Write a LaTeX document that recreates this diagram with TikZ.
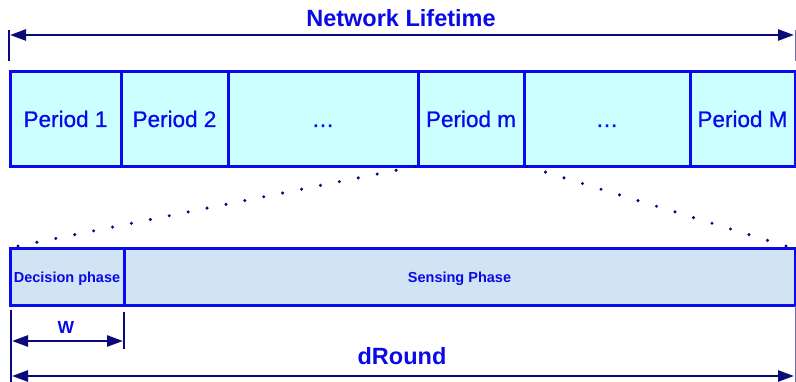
\documentclass[tikz,border=0pt]{standalone}
\usepackage{fontspec}
\setmainfont{Liberation Sans}
\newfontface\medfont[FakeBold=0.8]{Liberation Sans}
\usetikzlibrary{arrows.meta,calc}
\definecolor{boxblue}{HTML}{0A0AEE}
\definecolor{txtblue}{HTML}{0A0AE6}
\definecolor{navy}{HTML}{0A0A78}
\definecolor{cyanfill}{HTML}{CCFFFF}
\definecolor{phasefill}{HTML}{D0E4F4}
\tikzset{
  pbox/.style={draw=boxblue, line width=3pt, fill=cyanfill, inner sep=0pt, outer sep=0pt,
    minimum height=95pt, text=txtblue, text height=16pt, text depth=0pt,
    font=\medfont\fontsize{22.5}{26}\selectfont},
  phbox/.style={draw=boxblue, line width=3pt, fill=phasefill, inner sep=0pt, outer sep=0pt,
    minimum height=57pt, text=txtblue, text height=11pt, text depth=0pt,
    font=\bfseries\fontsize{14.5}{18}\selectfont},
  dimarrow/.style={draw=navy, line width=2.5pt, {Triangle[length=16pt,width=11pt]}-{Triangle[length=16pt,width=11pt]}},
  tick/.style={draw=navy, line width=2.5pt},
  thintick/.style={draw=navy!60, line width=1pt},
  dotmark/.style={fill=navy},
  title/.style={text=txtblue, font=\bfseries\fontsize{23.5}{27}\selectfont, inner sep=0pt}
}
\begin{document}
\begin{tikzpicture}[x=1pt,y=-1pt]
\useasboundingbox (0,0) rectangle (796,382);
% top boxes
\node[pbox, minimum width=111pt] (p1) at (65.5,119) {Period 1};
\node[pbox, minimum width=107pt] (p2) at (174.5,119) {Period 2};
\node[pbox, minimum width=190pt] (d1) at (323,119) {…};
\node[pbox, minimum width=106pt] (pm) at (471,119) {Period m};
\node[pbox, minimum width=166pt] (d2) at (607,119) {…};
\node[pbox, minimum width=105pt] (pM) at (742.5,119) {Period M};
% network lifetime
\node[title] (nl) at (401,18) {Network Lifetime};
\coordinate (nlL) at (10,35);
\coordinate (nlR) at (794,35);
\coordinate (nlLt) at (9,30);
\coordinate (nlLb) at (9,61);
\coordinate (nlRt) at (795,30);
\coordinate (nlRb) at (795,61);
\draw[tick] (nlLt) -- (nlLb);
\draw[thintick] (nlRt) -- (nlRb);
\draw[dimarrow] (nlL) -- (nlR);
% lower bar
\node[phbox, minimum width=114pt] (dec) at (67,277.5) {Decision phase};
\node[phbox, minimum width=671pt] (sen) at (459.5,277.5) {Sensing Phase};
% dotted zoom lines
\coordinate (zl1) at ([xshift=-3pt]pm.south west);
\coordinate (zl2) at ([xshift=8pt,yshift=3pt]dec.north west);
\coordinate (zr1) at ([xshift=3pt]pm.south east);
\coordinate (zr2) at ([xshift=-9pt,yshift=3pt]sen.north east);
\foreach \t in {0,...,21}{\fill[dotmark] ($(zl1)!\t/21!(zl2)$) circle (1.7pt);}
\foreach \t in {0,...,14}{\fill[dotmark] ($(zr1)!\t/14!(zr2)$) circle (1.7pt);}
% W
\coordinate (wLt) at (11,310);
\coordinate (wLb) at (11,382);
\coordinate (wRt) at (124,312);
\coordinate (wRb) at (124,349);
\coordinate (wL) at (12,341);
\coordinate (wR) at (123,341);
\draw[tick] (wLt) -- (wLb);
\draw[tick] (wRt) -- (wRb);
\draw[dimarrow] (wL) -- (wR);
\node[text=txtblue, font=\bfseries\fontsize{17.5}{20}\selectfont] (w) at (66,327) {W};
% dRound
\coordinate (rL) at (12,376);
\coordinate (rR) at (794,376);
\coordinate (rRt) at (795,306);
\coordinate (rRb) at (795,382);
\draw[thintick] (rRt) -- (rRb);
\draw[dimarrow] (rL) -- (rR);
\node[title] (dr) at (402,356) {dRound};
\end{tikzpicture}
\end{document}
